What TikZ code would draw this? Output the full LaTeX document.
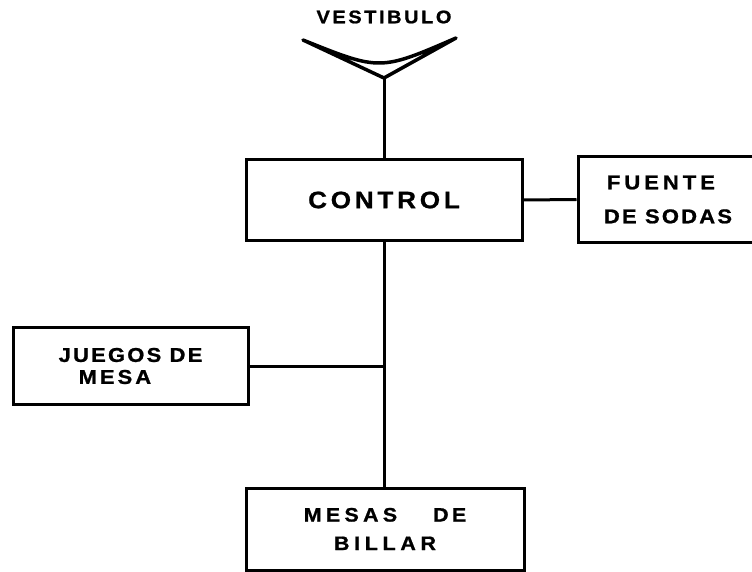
\documentclass[tikz,border=0pt]{standalone}
\usepackage{fontspec}
\newfontfamily\boxfont[FakeStretch=1.1, FakeBold=1]{Liberation Sans}
\newcommand\spc[2]{{\addfontfeature{LetterSpace=#1}#2}}
\usetikzlibrary{positioning}
\tikzset{
  box/.style={draw, line width=3pt, inner sep=0pt, align=center},
  lbl/.style={font=\boxfont\bfseries\fontsize{20}{26}\selectfont},
  link/.style={line width=3pt},
}

\begin{document}
\begin{tikzpicture}[x=1pt, y=-1pt]
  \useasboundingbox (0,0) rectangle (752,572);
  % entrada
  \node[lbl, font=\boxfont\bfseries\fontsize{18.2}{20}\selectfont] (vest) at (384,17) {\spc{14}{VESTIBULO}};
  \coordinate (vl) at (303,40);
  \coordinate (vr) at (456,38);
  \coordinate (vb) at (384,78);
  \draw[line width=3.5pt, line join=round] (vl) .. controls (380,71) .. (vr) -- (vb) -- cycle;
  % areas
  \node[box, lbl, minimum width=276pt, minimum height=80pt, font=\boxfont\bfseries\fontsize{23.7}{28}\selectfont] (control) at (384,200) {\spc{16}{CONTROL}};
  \node[box, lbl, minimum width=180pt, minimum height=85pt, align=left, font=\boxfont\bfseries\fontsize{20}{34}\selectfont] (fuente) at (668,199.5) {\hspace*{3pt}\spc{20}{FUENTE}\\\spc{11}{DE SODAS}};
  \node[box, lbl, minimum width=235pt, minimum height=77pt, align=left, font=\boxfont\bfseries\fontsize{20}{22}\selectfont] (juegos) at (130.5,366) {\spc{11}{JUEGOS DE}\\\hspace*{20pt}\spc{15}{MESA}};
  \node[box, lbl, minimum width=278pt, minimum height=82pt, font=\boxfont\bfseries\fontsize{19.5}{28.5}\selectfont] (mesas) at (385,529) {\spc{22}{MESAS}\hspace{36pt}\spc{17}{DE}\\\spc{24}{BILLAR}};
  % conexiones
  \draw[link] (vb) -- (control.north);
  \draw[link] (control.east) -- (fuente.west);
  \draw[link] (control.south) -- (mesas.north -| control.south);
  \draw[link] (juegos.east) -- (juegos.east -| control.south);
\end{tikzpicture}
\end{document}
